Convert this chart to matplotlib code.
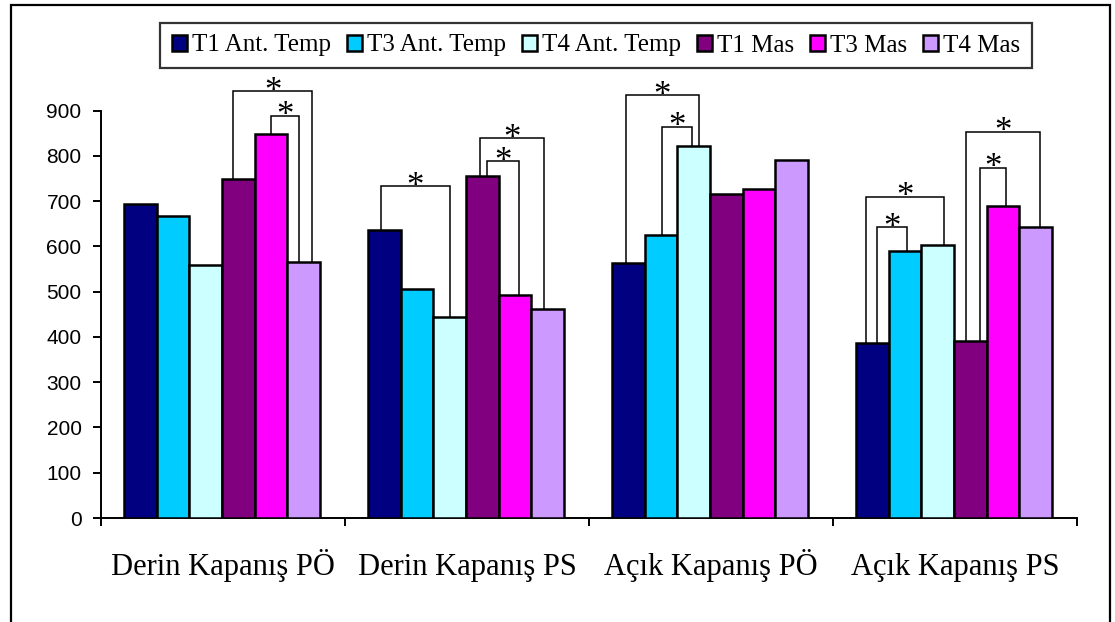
import matplotlib
matplotlib.use('Agg')
import matplotlib.pyplot as plt
import numpy as np
from matplotlib.patches import Rectangle

categories = ['Derin Kapanış PÖ', 'Derin Kapanış PS', 'Açık Kapanış PÖ', 'Açık Kapanış PS']
series_names = ['T1 Ant. Temp', 'T3 Ant. Temp', 'T4 Ant. Temp', 'T1 Mas', 'T3 Mas', 'T4 Mas']
t1_ant = [694, 636, 564, 387]
t3_ant = [668, 505, 626, 589]
t4_ant = [559, 444, 823, 603]
t1_mas = [749, 755, 715, 391]
t3_mas = [849, 492, 728, 690]
t4_mas = [565, 461, 790, 643]
series = [t1_ant, t3_ant, t4_ant, t1_mas, t3_mas, t4_mas]
colors = ['#000080', '#00CCFF', '#CCFFFF', '#800080', '#FF00FF', '#CC99FF']
y_ticks = [0, 100, 200, 300, 400, 500, 600, 700, 800, 900]

# significance brackets: (category, bar i, bar j, bracket height)
bracket_cat = [0, 0, 1, 1, 1, 2, 2, 3, 3, 3, 3]
bracket_i = [3, 4, 0, 3, 3, 0, 1, 0, 0, 3, 3]
bracket_j = [5, 5, 2, 5, 4, 2, 2, 2, 1, 5, 4]
bracket_h = [944, 889, 734, 840, 789, 935, 865, 710, 643, 854, 774]
# leg horizontal shifts (fraction of bar width) -- style only
shift_i = [-0.15, 0.0, -0.1, -0.06, 0.15, -0.06, 0.03, -0.18, 0.15, -0.12, 0.3]
shift_j = [0.25, -0.15, 0.0, -0.12, 0.12, 0.15, -0.06, 0.18, 0.06, 0.12, 0.1]

fig = plt.figure(figsize=(11.15, 6.22), dpi=100)
ax = fig.add_axes([101/1115, 1 - 518/622, (1077-101)/1115, (518-110.7)/622])

n = len(series)
bw = 0.134
x = np.arange(len(categories))
offsets = [(k - (n - 1) / 2) * bw for k in range(n)]
for k, (vals, c, name) in enumerate(zip(series, colors, series_names)):
    ax.bar(x + offsets[k] - 0.004, vals, width=bw, color=c, edgecolor='black',
           linewidth=1.8, label=name, zorder=3)

# brackets
for cat, i, j, h, si, sj in zip(bracket_cat, bracket_i, bracket_j, bracket_h, shift_i, shift_j):
    xi = cat + offsets[i] - 0.004 + si * bw
    xj = cat + offsets[j] - 0.004 + sj * bw
    yi = series[i][cat]
    yj = series[j][cat]
    ax.plot([xi, xi, xj, xj], [yi, h, h, yj], color='black', lw=1.1,
            clip_on=False, zorder=4, solid_joinstyle='miter')
    ax.annotate('*', xy=((xi + xj) / 2, h), xytext=(0, -7), textcoords='offset points',
                ha='center', va='baseline', fontsize=25, family='Liberation Serif',
                annotation_clip=False)

ax.set_xlim(-0.5, 3.5)
ax.set_ylim(0, 900)
ax.set_yticks(y_ticks)
ax.set_yticklabels([str(v) for v in y_ticks], family='Liberation Sans', fontsize=15)
ax.set_xticks(x)
ax.set_xticklabels(categories, family='Liberation Serif', fontsize=22)
for lab in ax.get_xticklabels():
    lab.set_verticalalignment('baseline')
ax.set_xticks(np.arange(-0.5, 4.0, 1.0), minor=True)
ax.tick_params(axis='x', which='major', length=0, pad=41)
ax.tick_params(axis='x', which='minor', length=6, width=1.4, direction='out')
ax.tick_params(axis='y', length=6, width=1.4, direction='out', pad=8)
for s in ['top', 'right']:
    ax.spines[s].set_visible(False)
for s in ['left', 'bottom']:
    ax.spines[s].set_linewidth(1.4)

leg = fig.legend(loc='center', bbox_to_anchor=(596/1115, 1 - 45.5/622), ncol=6,
                 prop={'family': 'Liberation Serif', 'size': 18},
                 frameon=True, fancybox=False, edgecolor='black',
                 handlelength=0.62, handleheight=0.62, handletextpad=0.2,
                 columnspacing=0.62, borderpad=0.45, borderaxespad=0)
leg.get_frame().set_linewidth(1.6)

fig.patches.append(Rectangle((11/1115, -0.05), (1110-11)/1115, 1.05 - 5/622,
                             transform=fig.transFigure, fill=False,
                             edgecolor='black', linewidth=1.6))

fig.savefig('out.png', dpi=100)
